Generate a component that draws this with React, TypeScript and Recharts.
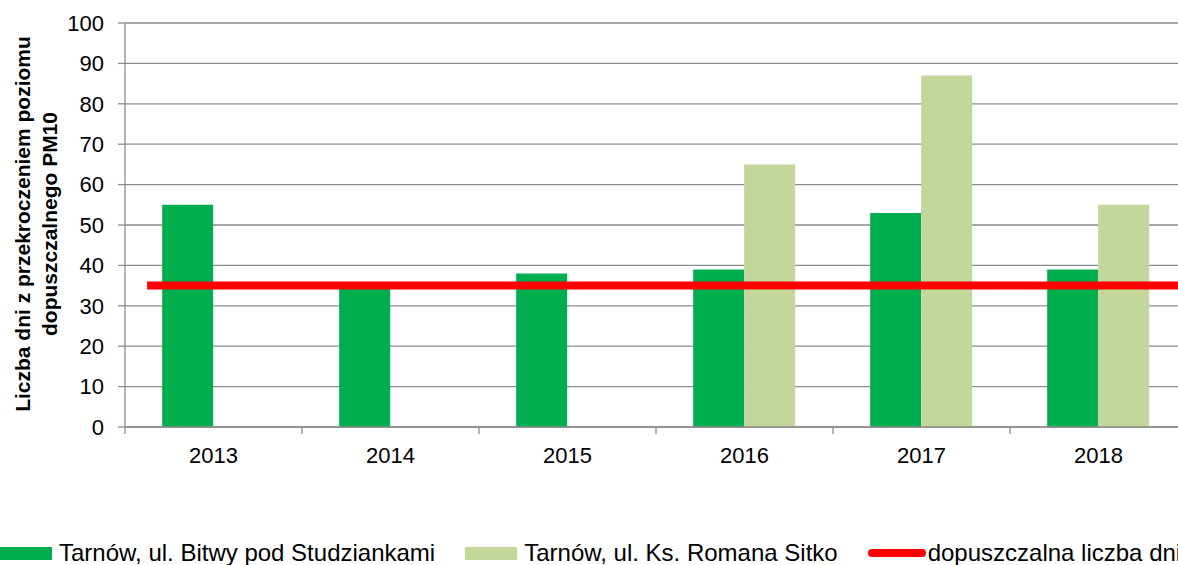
import {
  Bar,
  CartesianGrid,
  ComposedChart,
  Line,
  XAxis,
  YAxis,
} from "recharts";

const years = ["2013", "2014", "2015", "2016", "2017", "2018"];
const bitwy = [55, 35, 38, 39, 53, 39];
const sitko = [null, null, null, 65, 87, 55];
const limitX = [0.125, 6];
const limitY = [35, 35];
const yTicks = [0, 10, 20, 30, 40, 50, 60, 70, 80, 90, 100];

const SERIES = [
  { key: "bitwy", name: "Tarnów, ul. Bitwy pod Studziankami", color: "#00ae4f" },
  { key: "sitko", name: "Tarnów, ul. Ks. Romana Sitko", color: "#c4d79b" },
];
const LIMIT = { name: "dopuszczalna liczba dni", color: "#ff0000" };

const data = years.map((y, i) => ({ rok: y, bitwy: bitwy[i], sitko: sitko[i] }));
const limitData = limitX.map((x, i) => ({ x, v: limitY[i] }));

const FONT = "'Liberation Sans', Arial, sans-serif";
const GRID = "#8c8c8c";

const BAND = 177;

function XTick(props: any) {
  const { x, y, payload, index } = props;
  const left = x - BAND / 2;
  return (
    <g>
      <line x1={left} y1={y - 8} x2={left} y2={y - 1} stroke={GRID} strokeWidth={1.3} />
      {index === years.length - 1 && (
        <line x1={left + BAND} y1={y - 8} x2={left + BAND} y2={y - 1} stroke={GRID} />
      )}
      <text
        x={x}
        y={y + 28}
        textAnchor="middle"
        fontSize={22}
        fontFamily={FONT}
        fill="#000"
      >
        {payload.value}
      </text>
    </g>
  );
}

function YTitle() {
  return (
    <g fontFamily={FONT} fontWeight="bold" fontSize={21} fill="#000">
      <text transform="translate(30,224) rotate(-90)" textAnchor="middle">
        Liczba dni z przekroczeniem poziomu
      </text>
      <text transform="translate(57,224) rotate(-90)" textAnchor="middle">
        dopuszczalnego PM10
      </text>
    </g>
  );
}

function LegendRow() {
  const text: React.CSSProperties = {
    fontFamily: FONT,
    fontSize: 24,
    color: "#000",
    whiteSpace: "nowrap",
  };
  return (
    <div
      style={{
        position: "absolute",
        left: 0,
        top: 538,
        display: "flex",
        alignItems: "center",
        height: 30,
      }}
    >
      {SERIES.map((s) => (
        <div key={s.key} style={{ display: "flex", alignItems: "center", marginRight: 30 }}>
          <span style={{ width: 52, height: 13, background: s.color, marginRight: 7 }} />
          <span style={text}>{s.name}</span>
        </div>
      ))}
      <div style={{ display: "flex", alignItems: "center" }}>
        <span
          style={{
            width: 58,
            height: 8,
            borderRadius: 4,
            background: LIMIT.color,
            marginRight: 2,
          }}
        />
        <span style={text}>{LIMIT.name}</span>
      </div>
    </div>
  );
}

export default function App() {
  return (
    <div
      style={{
        position: "absolute",
        left: 0,
        top: 0,
        width: 1178,
        height: 565,
        overflow: "hidden",
        background: "#fff",
      }}
    >
      <ComposedChart
        width={1200}
        height={565}
        data={data}
        margin={{ top: 23, right: 13, left: 0, bottom: 98 }}
        barCategoryGap="21%"
        barGap={0}
      >
        <CartesianGrid vertical={false} stroke={GRID} strokeWidth={1.3} />
        <XAxis
          xAxisId="cat"
          dataKey="rok"
          height={40}
          axisLine={{ stroke: GRID, strokeWidth: 1.3 }}
          tickLine={false}
          tick={<XTick />}
          interval={0}
        />
        <XAxis
          xAxisId="ln"
          type="number"
          dataKey="x"
          domain={[0, 6]}
          allowDataOverflow
          hide
        />
        <YAxis
          width={125}
          domain={[0, 100]}
          ticks={yTicks}
          interval={0}
          axisLine={{ stroke: GRID, strokeWidth: 1.3 }}
          tickLine={{ stroke: GRID, strokeWidth: 1.3 }}
          tickSize={7}
          tickMargin={14}
          tick={{ fontSize: 22, fontFamily: FONT, fill: "#000" }}
          label={<YTitle />}
        />
        {SERIES.map((s) => (
          <Bar
            key={s.key}
            xAxisId="cat"
            dataKey={s.key}
            name={s.name}
            fill={s.color}
            isAnimationActive={false}
          />
        ))}
        <Line
          xAxisId="ln"
          data={limitData}
          dataKey="v"
          name={LIMIT.name}
          stroke={LIMIT.color}
          strokeWidth={8}
          dot={false}
          activeDot={false}
          isAnimationActive={false}
        />
      </ComposedChart>
      <LegendRow />
    </div>
  );
}
